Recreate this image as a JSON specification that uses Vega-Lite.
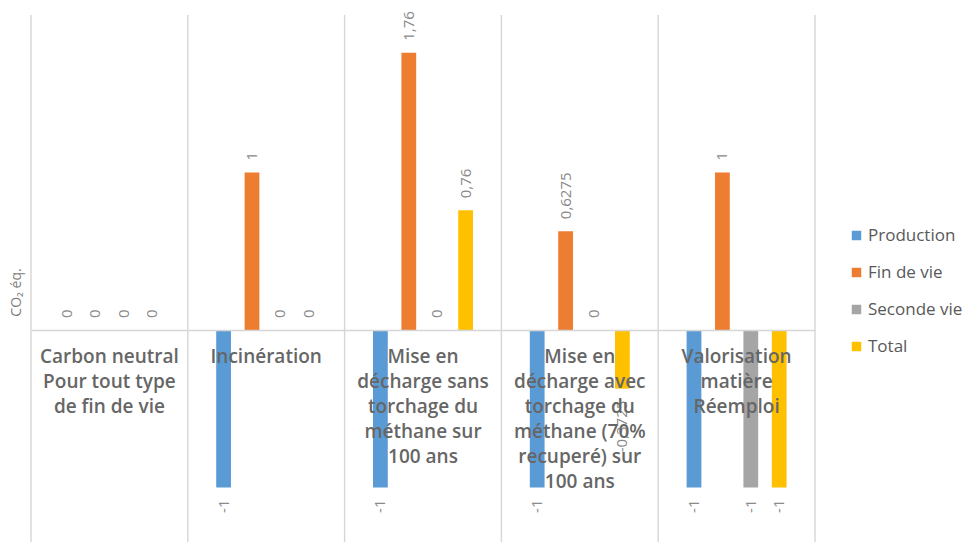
{
  "$schema": "https://vega.github.io/schema/vega-lite/v6.json",
  "autosize": {"type": "none"},
  "padding": {"left": 31, "top": 15, "right": 151, "bottom": 0},
  "width": 784,
  "height": 535.5,
  "background": "white",
  "config": {
    "view": {"stroke": null},
    "font": "Open Sans",
    "locale": {
      "number": {
        "decimal": ",",
        "thousands": " ",
        "grouping": [3],
        "currency": ["", " €"],
        "minus": "-"
      }
    }
  },
  "data": {
    "values": [
      {"categorie": "Carbon neutral\nPour tout type\nde fin de vie", "serie": "Production", "valeur": 0},
      {"categorie": "Carbon neutral\nPour tout type\nde fin de vie", "serie": "Fin de vie", "valeur": 0},
      {"categorie": "Carbon neutral\nPour tout type\nde fin de vie", "serie": "Seconde vie", "valeur": 0},
      {"categorie": "Carbon neutral\nPour tout type\nde fin de vie", "serie": "Total", "valeur": 0},
      {"categorie": "Incinération", "serie": "Production", "valeur": -1},
      {"categorie": "Incinération", "serie": "Fin de vie", "valeur": 1},
      {"categorie": "Incinération", "serie": "Seconde vie", "valeur": 0},
      {"categorie": "Incinération", "serie": "Total", "valeur": 0},
      {"categorie": "Mise en\ndécharge sans\ntorchage du\nméthane sur\n100 ans", "serie": "Production", "valeur": -1},
      {"categorie": "Mise en\ndécharge sans\ntorchage du\nméthane sur\n100 ans", "serie": "Fin de vie", "valeur": 1.76},
      {"categorie": "Mise en\ndécharge sans\ntorchage du\nméthane sur\n100 ans", "serie": "Seconde vie", "valeur": 0},
      {"categorie": "Mise en\ndécharge sans\ntorchage du\nméthane sur\n100 ans", "serie": "Total", "valeur": 0.76},
      {"categorie": "Mise en\ndécharge avec\ntorchage du\nméthane (70%\nrecuperé) sur\n100 ans", "serie": "Production", "valeur": -1},
      {"categorie": "Mise en\ndécharge avec\ntorchage du\nméthane (70%\nrecuperé) sur\n100 ans", "serie": "Fin de vie", "valeur": 0.6275},
      {"categorie": "Mise en\ndécharge avec\ntorchage du\nméthane (70%\nrecuperé) sur\n100 ans", "serie": "Seconde vie", "valeur": 0},
      {"categorie": "Mise en\ndécharge avec\ntorchage du\nméthane (70%\nrecuperé) sur\n100 ans", "serie": "Total", "valeur": -0.3725},
      {"categorie": "Valorisation\nmatière\nRéemploi", "serie": "Production", "valeur": -1},
      {"categorie": "Valorisation\nmatière\nRéemploi", "serie": "Fin de vie", "valeur": 1},
      {"categorie": "Valorisation\nmatière\nRéemploi", "serie": "Seconde vie", "valeur": -1},
      {"categorie": "Valorisation\nmatière\nRéemploi", "serie": "Total", "valeur": -1}
    ]
  },
  "encoding": {
    "x": {
      "field": "categorie",
      "type": "nominal",
      "sort": null,
      "title": null,
      "scale": {"paddingInner": 0, "paddingOuter": 0},
      "axis": {
        "orient": "bottom",
        "offset": -220.5,
        "zindex": 1,
        "domainColor": "#d6d6d6",
        "domainWidth": 1.4,
        "ticks": false,
        "grid": false,
        "labelAngle": 0,
        "labelAlign": "center",
        "labelBaseline": "top",
        "labelPadding": 17,
        "labelFont": "Open Sans",
        "labelFontSize": 19,
        "labelFontWeight": 600,
        "labelColor": "#666666",
        "labelLineHeight": 25,
        "labelLimit": 0,
        "labelExpr": "split(datum.label, '\\n')"
      }
    }
  },
  "layer": [
    {
      "transform": [{"filter": "datum.serie === 'Production'"}],
      "mark": {"type": "rule", "color": "#d6d6d6", "strokeWidth": 1.4},
      "encoding": {
        "x": {"field": "categorie", "type": "nominal", "sort": null, "bandPosition": 0}
      }
    },
    {
      "transform": [{"filter": "datum.serie === 'Production' && indexof(datum.categorie, 'Valorisation') === 0"}],
      "mark": {"type": "rule", "color": "#d6d6d6", "strokeWidth": 1.4},
      "encoding": {
        "x": {"field": "categorie", "type": "nominal", "sort": null, "bandPosition": 1}
      }
    },
    {
      "mark": {"type": "bar"},
      "encoding": {
        "xOffset": {
          "field": "serie",
          "type": "nominal",
          "sort": ["Production", "Fin de vie", "Seconde vie", "Total"],
          "scale": {"paddingInner": 0.48, "paddingOuter": 1.1}
        },
        "y": {
          "field": "valeur",
          "type": "quantitative",
          "scale": {"domain": [-1.4, 2], "nice": false, "zero": true},
          "axis": {
            "title": "CO₂ éq.",
            "titleFontSize": 14,
            "titleFontWeight": "normal",
            "titleColor": "#808080",
            "titleX": -15,
            "titleY": 277,
            "titleAngle": -90,
            "titleAlign": "center",
            "titleBaseline": "middle",
            "labels": false,
            "ticks": false,
            "domain": false,
            "grid": false
          }
        },
        "color": {
          "field": "serie",
          "type": "nominal",
          "sort": ["Production", "Fin de vie", "Seconde vie", "Total"],
          "scale": {
            "domain": ["Production", "Fin de vie", "Seconde vie", "Total"],
            "range": ["#5B9BD5", "#ED7D31", "#A5A5A5", "#FFC000"]
          },
          "legend": {
            "title": null,
            "orient": "none",
            "legendX": 817,
            "legendY": 212,
            "symbolType": "square",
            "symbolSize": 90,
            "symbolStrokeWidth": 0,
            "labelFontSize": 17,
            "labelColor": "#595959",
            "labelOffset": 3,
            "rowPadding": 19
          }
        }
      }
    },
    {
      "transform": [{"filter": "datum.valeur >= 0"}],
      "mark": {"type": "text", "angle": -90, "align": "left", "baseline": "middle", "dx": 12, "fontSize": 15, "color": "#8a8a8a"},
      "encoding": {
        "xOffset": {"field": "serie", "type": "nominal", "sort": ["Production", "Fin de vie", "Seconde vie", "Total"]},
        "y": {"field": "valeur", "type": "quantitative"},
        "text": {"field": "valeur", "type": "quantitative", "format": "~g"}
      }
    },
    {
      "transform": [{"filter": "datum.valeur < 0"}],
      "mark": {"type": "text", "angle": -90, "align": "right", "baseline": "middle", "dx": -12, "fontSize": 15, "color": "#8a8a8a"},
      "encoding": {
        "xOffset": {"field": "serie", "type": "nominal", "sort": ["Production", "Fin de vie", "Seconde vie", "Total"]},
        "y": {"field": "valeur", "type": "quantitative"},
        "text": {"field": "valeur", "type": "quantitative", "format": "~g"}
      }
    }
  ]
}
